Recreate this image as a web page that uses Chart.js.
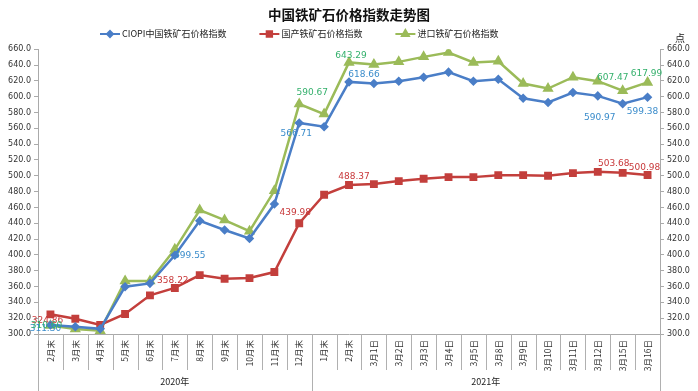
<!DOCTYPE html>
<html>
<head>
<meta charset="utf-8">
<script src="https://cdn.jsdelivr.net/npm/chart.js@4/dist/chart.umd.min.js"></script>
<style>
body { margin: 0; background: #fff; }
</style>
</head>
<body>
<canvas id="chart" width="698" height="391"></canvas>
<script>
// data
const categories = ['2月末', '3月末', '4月末', '5月末', '6月末', '7月末', '8月末', '9月末', '10月末', '11月末', '12月末',
  '1月末', '2月末', '3月1日', '3月2日', '3月3日', '3月4日', '3月5日', '3月8日', '3月9日', '3月10日', '3月11日', '3月12日', '3月15日', '3月16日'];
const years = ['2020年', '2021年'];
const yearSizes = [11, 14];
const seriesNames = ['CIOPI中国铁矿石价格指数', '国产铁矿石价格指数', '进口铁矿石价格指数'];
const ciopi = [311.30, 309.2, 306.5, 359.8, 364.0, 399.55, 443.0, 431.5, 420.8, 464.2, 566.71,
  562.0, 618.66, 616.6, 619.6, 624.6, 631.0, 619.6, 622.0, 598.0, 592.6, 605.3, 601.0, 590.97, 599.38];
const domestic = [324.86, 319.3, 311.4, 325.3, 348.9, 358.22, 374.5, 369.9, 370.7, 378.3, 439.98,
  476.0, 488.37, 489.5, 493.3, 496.2, 498.3, 498.3, 500.8, 500.8, 500.0, 503.4, 505.0, 503.68, 500.98];
const imported = [310.60, 306.3, 304.2, 367.0, 367.0, 407.0, 456.6, 444.0, 430.0, 481.0, 590.67,
  578.0, 643.29, 640.7, 644.0, 650.3, 655.8, 643.2, 644.8, 616.6, 610.3, 624.6, 619.6, 607.47, 617.99];
const yMin = 300, yMax = 660, yStep = 20;

// which points carry a value label, and where the text sits relative to the point
const labelSpots = [
  [[0, -5, 4], [5, 15, 0], [10, -3, 11], [12, 15, -7], [23, -23, 14], [24, -5, 14]],
  [[0, -3, 6], [5, -2, -7], [10, -4, -11], [12, 5, -8], [23, -9, -9], [24, -3, -7]],
  [[0, -4, 0], [10, 13, -11], [12, 2, -7], [23, -10, -13], [24, -1, -9]]
];
const lineColors = ['#4a7ec7', '#c33f3c', '#9bbb59'];
const textColors = ['#3a8ccb', '#c8383a', '#34b06c'];
const markers = ['rectRot', 'rect', 'triangle'];
const markerSize = [3, 3.8, 4];

const cjk = '"Noto Sans CJK SC", "DejaVu Sans", sans-serif';
const num = '"DejaVu Sans", sans-serif';

const overlay = {
  id: 'overlay',
  afterDatasetsDraw(chart) {
    const ctx = chart.ctx, xs = chart.scales.x, area = chart.chartArea;
    const step = xs.getPixelForValue(1) - xs.getPixelForValue(0);
    ctx.save();

    // category separators below the axis, longer ones at year boundaries
    const yearEdges = [0];
    yearSizes.forEach(n => yearEdges.push(yearEdges[yearEdges.length - 1] + n));
    ctx.strokeStyle = '#b0b0b0';
    ctx.lineWidth = 1;
    for (let i = 0; i <= categories.length; i++) {
      const bx = Math.round(xs.getPixelForValue(i) - step / 2) + 0.5;
      const long = yearEdges.includes(i);
      ctx.beginPath();
      ctx.moveTo(bx, area.bottom);
      ctx.lineTo(bx, long ? chart.height : area.bottom + 36);
      ctx.stroke();
    }
    ctx.fillStyle = '#222';
    ctx.font = '9px ' + cjk;
    ctx.textAlign = 'center';
    ctx.textBaseline = 'middle';
    years.forEach((y, k) => {
      const a = xs.getPixelForValue(yearEdges[k]) - step / 2;
      const b = xs.getPixelForValue(yearEdges[k + 1]) - step / 2;
      ctx.fillText(y, (a + b) / 2, chart.height - 9);
    });

    // value labels
    ctx.font = '9px ' + num;
    chart.data.datasets.forEach((ds, d) => {
      const pts = chart.getDatasetMeta(d).data;
      ctx.fillStyle = textColors[d];
      labelSpots[d].forEach(([i, dx, dy]) => {
        ctx.fillText(ds.data[i].toFixed(2), pts[i].x + dx, pts[i].y + dy);
      });
    });

    // unit above the right axis
    const yr = chart.scales.y2;
    ctx.fillStyle = '#222';
    ctx.font = '10px ' + cjk;
    ctx.fillText('点', (yr.left + yr.right) / 2 + 1, area.top - 11);

    // legend
    ctx.font = '9px ' + cjk;
    ctx.textAlign = 'left';
    let lx = 100;
    const ly = 34;
    seriesNames.forEach((name, d) => {
      ctx.strokeStyle = lineColors[d];
      ctx.lineWidth = 2;
      ctx.beginPath();
      ctx.moveTo(lx, ly);
      ctx.lineTo(lx + 20, ly);
      ctx.stroke();
      ctx.fillStyle = lineColors[d];
      Chart.helpers.drawPoint(ctx, {pointStyle: markers[d], radius: markerSize[d], rotation: 0, borderWidth: 1}, lx + 10, ly);
      ctx.fillStyle = '#222';
      ctx.fillText(name, lx + 22, ly);
      lx += 22 + ctx.measureText(name).width + 33;
    });
    ctx.restore();
  }
};

const makeSet = (d, values) => ({
  label: seriesNames[d],
  data: values,
  borderColor: lineColors[d],
  backgroundColor: lineColors[d],
  pointBackgroundColor: lineColors[d],
  pointBorderColor: lineColors[d],
  pointStyle: markers[d],
  pointRadius: markerSize[d],
  borderWidth: 2.5,
  tension: 0,
  yAxisID: 'y'
});

const yAxis = (pos) => ({
  position: pos,
  min: yMin,
  max: yMax,
  ticks: {stepSize: yStep, callback: v => v.toFixed(1), font: {family: num, size: 8}, color: '#333', padding: 3},
  grid: {drawOnChartArea: false, tickLength: 4, color: '#aaa'},
  border: {color: '#aaa'},
  afterFit: s => { s.width = 38; }
});

new Chart(document.getElementById('chart'), {
  type: 'line',
  data: {
    labels: categories,
    datasets: [makeSet(0, ciopi), makeSet(1, domestic), makeSet(2, imported)]
  },
  options: {
    responsive: false,
    animation: false,
    layout: {padding: {top: 2}},
    plugins: {
      legend: {display: false},
      tooltip: {enabled: false},
      title: {
        display: true,
        text: '中国铁矿石价格指数走势图',
        color: '#111',
        font: {family: cjk, size: 13.5, weight: 'bold'},
        padding: {top: 5, bottom: 26}
      }
    },
    scales: {
      x: {
        offset: true,
        grid: {display: false, drawTicks: false},
        border: {color: '#aaa'},
        ticks: {autoSkip: false, maxRotation: 90, minRotation: 90, font: {family: cjk, size: 8.5}, color: '#333', padding: 6},
        afterFit: s => { s.height = 57; }
      },
      y: yAxis('left'),
      y2: yAxis('right')
    }
  },
  plugins: [overlay]
});
</script>
</body>
</html>
